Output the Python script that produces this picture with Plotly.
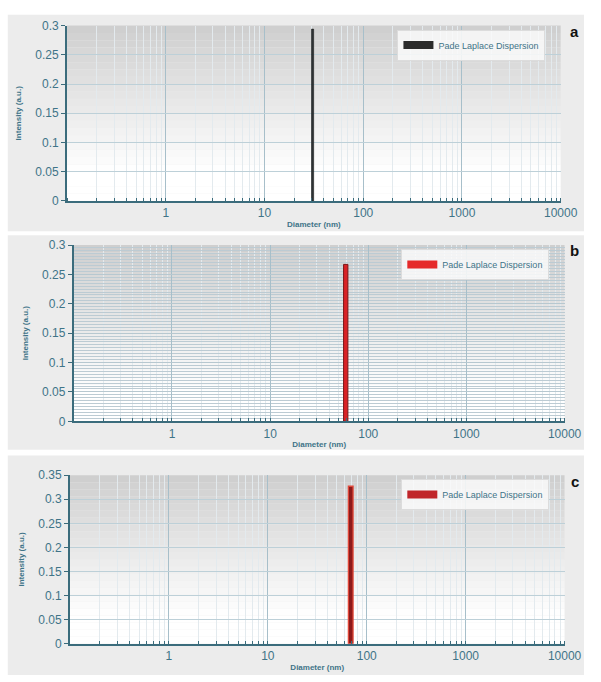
import plotly.graph_objects as go

# ---- data ----
panel_labels = ["a", "b", "c"]
series_name = "Pade Laplace Dispersion"
peak_diameter_nm = [30.7, 59.0, 69.0]
peak_intensity = [0.294, 0.267, 0.327]
peak_width_nm = [1.5, 6.0, 7.5]
y_max = [0.3, 0.3, 0.35]
x_tick_vals = [1, 10, 100, 1000, 10000]
x_tick_text = ["1", "10", "100", "1000", "10000"]

# ---- styles ----
W, H = 601, 682
bar_fill = ["#2e3436", "#d92226", "#8e1a1a"]
bar_edge = ["#1a1a1a", "#7a1616", "#e0483a"]
bar_edge_w = [0.6, 1.0, 1.3]
legend_col = ["#2b2b2b", "#e52a2a", "#c0262a"]
txt = "#3f7488"
axis_c = "#3b6c7c"
grid_major_x = "#a7bfca"
grid_major_y = ["#bdd0d8", "#b7c8d0", "#bdd0d8"]
grid_minor = "#e3eaee"
FONT = "Liberation Sans, Arial"

# pixel geometry of each panel: plot left, right, top, bottom ; box top, bottom
geo = [
    dict(l=69, r=577, t=19, b=198, bt=8, bb=229),
    dict(l=76, r=581, t=243, b=423, bt=233, bb=452),
    dict(l=72, r=581, t=478, b=650, bt=458, bb=682),
]

def px(x):
    return x / W

def py(y):
    return 1 - y / H

fig = go.Figure()
shapes = []
annotations = []
layout = {}

for i in range(3):
    g = geo[i]
    sfx = "" if i == 0 else str(i + 1)
    xa = "xaxis" + sfx
    ya = "yaxis" + sfx
    xr = "x" + sfx
    yr = "y" + sfx
    leg = "legend" + sfx

    # panel box
    shapes.append(dict(type="rect", xref="paper", yref="paper", layer="below",
                       x0=px(8), x1=1.0, y0=py(g["bb"]), y1=py(g["bt"]),
                       fillcolor="#ececec", line=dict(width=0)))
    # gradient plot background: darker at top, white toward bottom
    nb = 24
    for k in range(nb):
        f = (k + 0.5) / nb  # 0 at top, 1 at bottom
        v = int(round(206 + (255 - 206) * min(1.0, f * 1.2)))
        shapes.append(dict(type="rect", xref=xr + " domain", yref=yr + " domain", layer="below",
                           x0=0, x1=1, y0=1 - (k + 1) / nb, y1=1 - k / nb,
                           fillcolor=f"rgb({v},{v},{v})", line=dict(width=0)))

    fig.add_trace(go.Bar(
        x=[peak_diameter_nm[i]], y=[peak_intensity[i]], width=[peak_width_nm[i]],
        name=series_name, xaxis=xr, yaxis=yr, legend=leg,
        marker=dict(color=bar_fill[i], line=dict(color=bar_edge[i], width=bar_edge_w[i])),
        showlegend=False, hoverinfo="x+y",
    ))
    # legend swatch (wide rectangle look)
    fig.add_trace(go.Scatter(
        x=[None], y=[None], mode="lines", name=series_name, xaxis=xr, yaxis=yr,
        legend=leg, line=dict(color=legend_col[i], width=8), showlegend=True,
    ))

    layout[xa] = dict(
        type="log", range=[-1, 4], domain=[px(g["l"]), px(g["r"])],
        anchor=yr, tickvals=x_tick_vals, ticktext=x_tick_text,
        ticks="", showline=True, linecolor=axis_c, linewidth=2,
        showgrid=True, gridcolor=grid_major_x, gridwidth=1,
        minor=dict(showgrid=True, gridcolor=grid_minor, ticks="inside", ticklen=3,
                   tickcolor=axis_c, dtick="D1"),
        tickfont=dict(family=FONT, size=12, color=txt),
        title=dict(text="<b>Diameter (nm)</b>", standoff=2,
                   font=dict(family=FONT, size=8, color=txt)),
        zeroline=False, fixedrange=True,
    )
    layout[ya] = dict(
        range=[0, y_max[i]], domain=[py(g["b"]), py(g["t"])], anchor=xr,
        dtick=0.05, tick0=0, ticks="outside", ticklen=4, tickcolor=axis_c,
        showline=True, linecolor=axis_c, linewidth=2,
        showgrid=True, gridcolor=grid_major_y[i], gridwidth=1,
        tickfont=dict(family=FONT, size=12, color=txt),
        title=dict(text="<b>Intensity (a.u.)</b>", standoff=12,
                   font=dict(family=FONT, size=8, color=txt)),
        zeroline=False, fixedrange=True,
        tickformat="~g",
    )
    if i == 1:
        layout[ya]["minor"] = dict(showgrid=True, dtick=0.005, gridcolor="#bccbd3", gridwidth=1)

    layout[leg] = dict(
        x=px(g["r"] - 168), y=py(g["t"] + 4), xanchor="left", yanchor="top",
        bgcolor="rgba(250,250,250,0.85)", bordercolor="#dcdcdc", borderwidth=1,
        font=dict(family=FONT, size=9, color=txt),
        itemwidth=30, tracegroupgap=0,
    )

    annotations.append(dict(text="<b>" + panel_labels[i] + "</b>", xref="paper", yref="paper",
                            x=px(598), y=py(g["t"] + 6), xanchor="right", yanchor="middle",
                            showarrow=False,
                            font=dict(family=FONT, size=15, color="#111")))

fig.update_layout(
    width=W, height=H, margin=dict(l=0, r=0, t=0, b=0),
    paper_bgcolor="white", plot_bgcolor="rgba(0,0,0,0)",
    shapes=shapes, annotations=annotations, barmode="overlay",
    **layout,
)

fig.write_html("out.html")
